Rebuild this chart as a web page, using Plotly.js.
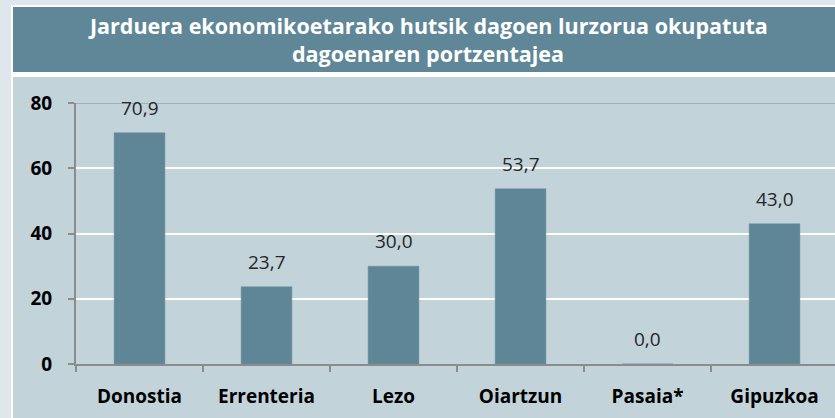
<!DOCTYPE html>
<html>
<head>
<meta charset="utf-8">
<script src="https://cdn.plot.ly/plotly-3.0.1.min.js"></script>
<style>html,body{margin:0;padding:0;background:#c2d3da;overflow:hidden;}#chart{width:835px;height:418px;}</style>
</head>
<body>
<div id="chart"></div>
<script>
const categories = ['Donostia', 'Errenteria', 'Lezo', 'Oiartzun', 'Pasaia*', 'Gipuzkoa'];
const values = [70.9, 23.7, 30.0, 53.7, 0.0, 43.0];
const yTickValues = [0, 20, 40, 60, 80];
const yTickLabels = ['0', '20', '40', '60', '80'];
const titleLines = ['Jarduera ekonomikoetarako hutsik dagoen lurzorua okupatuta', 'dagoenaren portzentajea'];

const W = 835, H = 418, mL = 76, mR = 0, mT = 103, mB = 54;
const pw = W - mL - mR, ph = H - mT - mB;
const px = x => (x - mL) / pw;
const py = y => (H - mB - y) / ph;

const FONT = 'Open Sans, DejaVu Sans, sans-serif';
const BAR = '#5f8696';

const fmt = v => v.toFixed(1).replace('.', ',');

const trace = {
  type: 'bar',
  x: categories,
  y: values,
  width: 0.4,
  marker: {color: BAR, line: {color: '#6f93a2', width: 0.5}},
  hoverinfo: 'none'
};

const annotations = categories.map((c, i) => ({
  x: c, y: values[i], xref: 'x', yref: 'y',
  text: fmt(values[i]), showarrow: false,
  yanchor: 'middle', yshift: 25,
  font: {family: FONT, size: 19, color: '#262626'}
}));

const titleY = [26, 54];
titleLines.forEach((t, i) => annotations.push({
  x: px(428), y: py(titleY[i]), xref: 'paper', yref: 'paper',
  text: '<b>' + t + '</b>', showarrow: false,
  xanchor: 'center', yanchor: 'middle',
  font: {family: FONT, size: 21.5, color: '#ffffff'}
}));

const shapes = [
  {type: 'rect', xref: 'paper', yref: 'paper', x0: px(0), x1: px(11), y0: py(0), y1: py(418), fillcolor: '#dfe6ec', line: {width: 0}, layer: 'below'},
  {type: 'rect', xref: 'paper', yref: 'paper', x0: px(0), x1: px(850), y0: py(0), y1: py(5), fillcolor: '#dfe6ec', line: {width: 0}, layer: 'below'},
  {type: 'rect', xref: 'paper', yref: 'paper', x0: px(11), x1: px(850), y0: py(5), y1: py(7), fillcolor: '#ffffff', line: {width: 0}, layer: 'below'},
  {type: 'rect', xref: 'paper', yref: 'paper', x0: px(11), x1: px(13), y0: py(5), y1: py(418), fillcolor: '#ffffff', line: {width: 0}, layer: 'below'},
  {type: 'rect', xref: 'paper', yref: 'paper', x0: px(13), x1: px(850), y0: py(72), y1: py(77), fillcolor: '#ffffff', line: {width: 0}, layer: 'below'},
  {type: 'rect', xref: 'paper', yref: 'paper', x0: px(13), x1: px(850), y0: py(7), y1: py(72), fillcolor: '#5f8797', line: {width: 0}, layer: 'below'},
  {type: 'line', xref: 'paper', yref: 'y', x0: 0, x1: 1, y0: 80, y1: 80, line: {color: '#9db3bc', width: 2}, layer: 'below'}
];

const layout = {
  width: W, height: H,
  margin: {l: mL, r: mR, t: mT, b: mB, pad: 0, autoexpand: false},
  paper_bgcolor: '#c2d3da',
  plot_bgcolor: 'rgba(0,0,0,0)',
  showlegend: false,
  xaxis: {
    type: 'category', range: [-0.5, 5.476], automargin: false,
    tickson: 'boundaries', ticks: 'outside', ticklen: 6, tickwidth: 2, tickcolor: '#8c8c8c',
    showline: true, linecolor: '#8c8c8c', linewidth: 2,
    showgrid: false, zeroline: false,
    ticklabelstandoff: 14,
    tickfont: {family: FONT, size: 19, color: '#000000', weight: 'bold'}
  },
  yaxis: {
    range: [0, 80], tickvals: yTickValues, ticktext: yTickLabels, automargin: false,
    ticks: 'outside', ticklen: 6, tickwidth: 2, tickcolor: '#8c8c8c',
    showline: true, linecolor: '#8c8c8c', linewidth: 2,
    showgrid: true, gridcolor: '#ffffff', gridwidth: 2, zeroline: false,
    ticklabelstandoff: 12,
    tickfont: {family: FONT, size: 19, color: '#000000', weight: 'bold'}
  },
  shapes: shapes,
  annotations: annotations
};

Plotly.newPlot('chart', [trace], layout, {displayModeBar: false, staticPlot: true});
</script>
</body>
</html>
